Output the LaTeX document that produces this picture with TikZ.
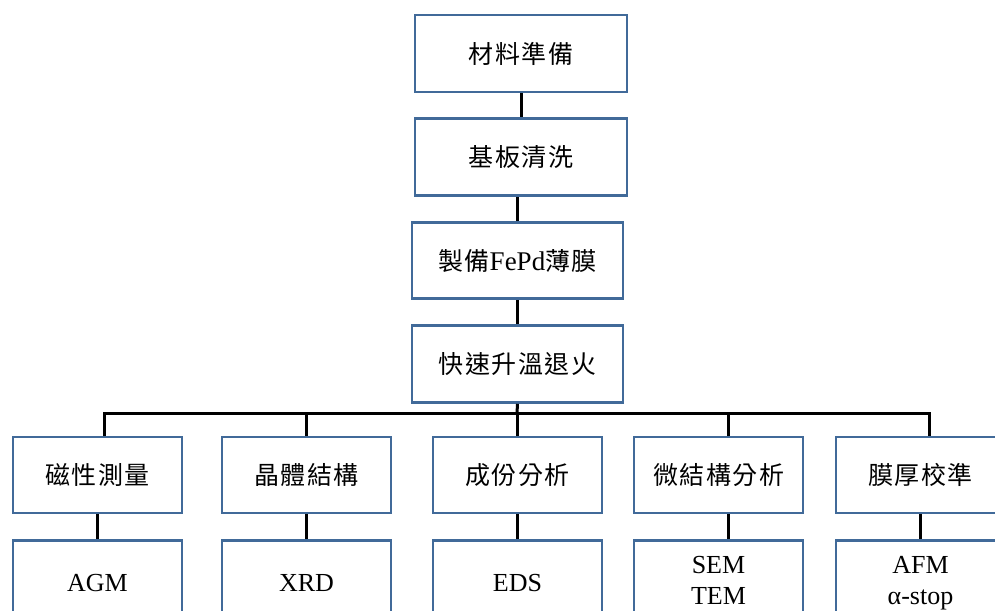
\documentclass[tikz,border=0pt]{standalone}
\usepackage{fontspec}
\setmainfont{Liberation Serif}
\newfontfamily\cjk[LetterSpace=6]{Noto Sans CJK TC}
\usepackage{tikz}
\usetikzlibrary{positioning}
\definecolor{boxblue}{RGB}{65,106,153}
\tikzset{
  box/.style={draw=boxblue, line width=2.8pt, fill=white, rectangle,
    minimum width=212pt, minimum height=77pt, align=center, inner sep=0pt,
    font=\fontsize{25}{28}\selectfont\cjk},
  sub/.style={box, minimum width=169pt, minimum height=76pt},
  tool/.style={sub, minimum height=84pt, font=\fontsize{26}{31}\selectfont},
  link/.style={draw=black, line width=3pt}
}

\begin{document}
\begin{tikzpicture}[x=1pt,y=-1pt]
  \clip (0,0) rectangle (995,610);
  % main process chain
  \node[box] (prep) at (521,53.5) {材料準備};
  \node[box, below=24pt of prep] (clean) {基板清洗};
  \node[box, below=24pt of clean, xshift=-3.5pt, minimum width=211pt, minimum height=76pt] (film)
    {製備{\fontsize{27}{28}\selectfont\rmfamily FePd}薄膜};
  \node[box, below=24pt of film, minimum width=211pt] (rta) {快速升溫退火};
  \coordinate (bus) at (517,413);

  % analysis items
  \node[sub] (m1) at (97.5,475) {磁性測量};
  \node[sub] (m2) at (306.5,475) {晶體結構};
  \node[sub] (m3) at (517.5,475) {成份分析};
  \node[sub] (m4) at (718.5,475) {微結構分析};
  \node[sub] (m5) at (920.5,475) {膜厚校準};

  \node[tool, below=25pt of m1] (t1) {AGM};
  \node[tool, below=25pt of m2] (t2) {XRD};
  \node[tool, below=25pt of m3] (t3) {EDS};
  \node[tool, below=25pt of m4] (t4) {SEM\\TEM\vphantom{p}};
  \node[tool, below=25pt of m5] (t5) {AFM\\α-stop};

  \draw[link] (prep) -- (clean);
  \draw[link] (film.north) -- (film.north |- clean.south);
  \draw[link] (film) -- (rta);
  \draw[link] (rta.south) -- (bus);
  \foreach \n/\dx in {1/6.5,2/0,3/0,4/9.5,5/8.5}
    \draw[link] ([xshift=\dx pt]m\n.north) |- (bus);
  \foreach \n/\dx in {1/0,2/0,3/0,4/9.5,5/0}
    \draw[link] ([xshift=\dx pt]m\n.south) -- ([xshift=\dx pt]t\n.north);
\end{tikzpicture}
\end{document}
